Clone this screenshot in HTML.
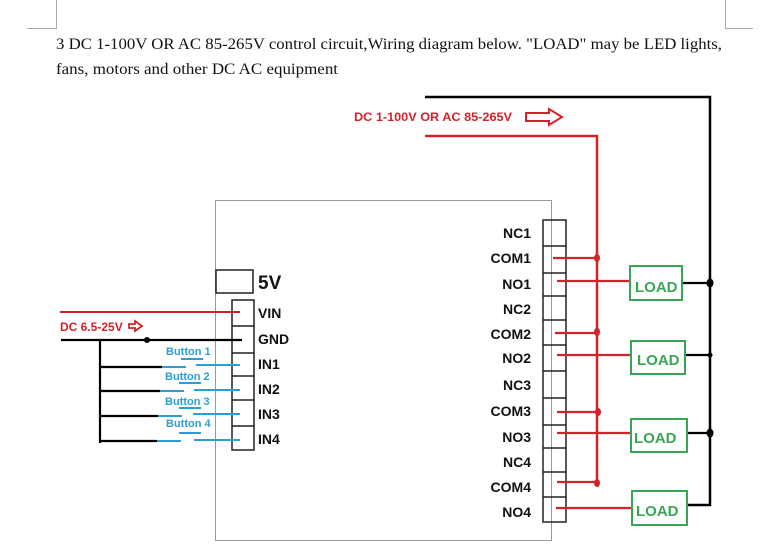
<!DOCTYPE html>
<html><head><meta charset="utf-8"><style>
html,body{margin:0;padding:0;background:#fff;width:763px;height:550px;overflow:hidden}
svg{display:block}
.b{font-family:"Liberation Sans",sans-serif;font-weight:bold}
</style></head><body>
<svg width="763" height="550" viewBox="0 0 763 550" xmlns="http://www.w3.org/2000/svg">
<g stroke="#aaa" stroke-width="1" fill="none">
<path d="M56.5 0V28.5H27"/><path d="M725.5 0V28.5H753"/>
</g>
<g font-family="'Liberation Serif',serif" font-size="16" fill="#111">
<text x="56" y="49" textLength="666" lengthAdjust="spacingAndGlyphs">3 DC 1-100V OR AC 85-265V control circuit,Wiring diagram below. "LOAD" may be LED lights,</text>
<text x="56" y="74" textLength="282" lengthAdjust="spacingAndGlyphs">fans, motors and other DC AC equipment</text>
</g>
<!-- board -->
<rect x="215.5" y="200.5" width="336" height="340" fill="none" stroke="#999" stroke-width="1"/>
<!-- top supply -->
<path d="M425 97H710V505H687" fill="none" stroke="#000" stroke-width="2.5"/>
<path d="M425 136H597V483" fill="none" stroke="#d3222a" stroke-width="2.5"/>
<text x="354" y="121" class="b" font-size="12" fill="#d3222a" textLength="158" lengthAdjust="spacingAndGlyphs">DC 1-100V OR AC 85-265V</text>
<path d="M526 113H549V109L562 117L549 125V121H526Z" fill="none" stroke="#d3222a" stroke-width="2"/>
<!-- right terminal column -->
<g fill="none" stroke="#222" stroke-width="1.5">
<rect x="543" y="220" width="23" height="302"/>
<path d="M543 246H566M543 273H566M543 296H566M543 320H566M543 345H566M543 371H566M543 398H566M543 425H566M543 448H566M543 472H566M543 497H566"/>
</g>
<g class="b" font-size="14" fill="#111" text-anchor="end">
<text x="531" y="238">NC1</text><text x="531" y="263">COM1</text><text x="531" y="289">NO1</text>
<text x="531" y="314">NC2</text><text x="531" y="339">COM2</text><text x="531" y="363">NO2</text>
<text x="531" y="390">NC3</text><text x="531" y="416">COM3</text><text x="531" y="442">NO3</text>
<text x="531" y="467">NC4</text><text x="531" y="492">COM4</text><text x="531" y="517">NO4</text>
</g>
<g stroke="#d3222a" stroke-width="2.2" fill="none">
<path d="M553 258H597M557 281H630M555 333H597M557 355H631M557 412H597M557 433H631M557 482H597M556 508H632"/>
</g>
<g fill="#d3222a">
<ellipse cx="597" cy="258" rx="3" ry="4"/><ellipse cx="597" cy="332" rx="3" ry="4"/>
<ellipse cx="598" cy="412" rx="3" ry="4"/><ellipse cx="597" cy="483" rx="3" ry="4"/>
</g>
<g stroke="#000" stroke-width="2.2"><path d="M682 283H710M685 355H710M687 433H710"/></g>
<g fill="#000"><ellipse cx="710" cy="283" rx="3.5" ry="4.5"/><circle cx="710" cy="355" r="2.5"/><ellipse cx="710" cy="433" rx="3.5" ry="4.5"/></g>
<g fill="#fff" stroke="#3aa655" stroke-width="2">
<rect x="630" y="266" width="52" height="34"/><rect x="631" y="341" width="54" height="33"/>
<rect x="631" y="419" width="56" height="33"/><rect x="632" y="491" width="55" height="34"/>
</g>
<g class="b" font-size="15" fill="#3aa655">
<text x="635" y="292">LOAD</text><text x="637" y="365">LOAD</text>
<text x="634" y="443">LOAD</text><text x="636" y="516">LOAD</text>
</g>
<!-- left side -->
<rect x="216" y="270" width="37" height="23" fill="none" stroke="#222" stroke-width="1.5"/>
<text x="258" y="289" class="b" font-size="19" fill="#111">5V</text>
<g fill="none" stroke="#222" stroke-width="1.5">
<rect x="232" y="300" width="22" height="150"/>
<path d="M232 326H254M232 353H254M232 376H254M232 400H254M232 426H254"/>
</g>
<g class="b" font-size="14" fill="#111">
<text x="258" y="318">VIN</text><text x="258" y="344">GND</text><text x="258" y="369">IN1</text>
<text x="258" y="394">IN2</text><text x="258" y="419">IN3</text><text x="258" y="444">IN4</text>
</g>
<path d="M60 312H240" stroke="#d3222a" stroke-width="2"/>
<text x="60" y="331" class="b" font-size="12" fill="#d3222a">DC 6.5-25V</text>
<path d="M129 324H135V321L142 326L135 331V328H129Z" fill="none" stroke="#d3222a" stroke-width="1.8"/>
<g stroke="#000" stroke-width="2.2" fill="none">
<path d="M61 340H242M100 340V443"/>
<path d="M100 367H162M100 391H160M100 416H158M100 441H157"/>
</g>
<circle cx="147" cy="340" r="3" fill="#000"/>
<g stroke="#2b9fd3" stroke-width="2" fill="none">
<path d="M162 367H186M196 365H240M181 359H203"/>
<path d="M160 391H184M194 390H240M179 383H201"/>
<path d="M158 416H182M193 414H240M179 408H201"/>
<path d="M157 441H181M194 440H240M179 433H201"/>
</g>
<g class="b" font-size="11" fill="#2b9fd3">
<text x="166" y="355">Button 1</text><text x="165" y="380">Button 2</text>
<text x="165" y="405">Button 3</text><text x="166" y="427">Button 4</text>
</g>
</svg>
</body></html>
